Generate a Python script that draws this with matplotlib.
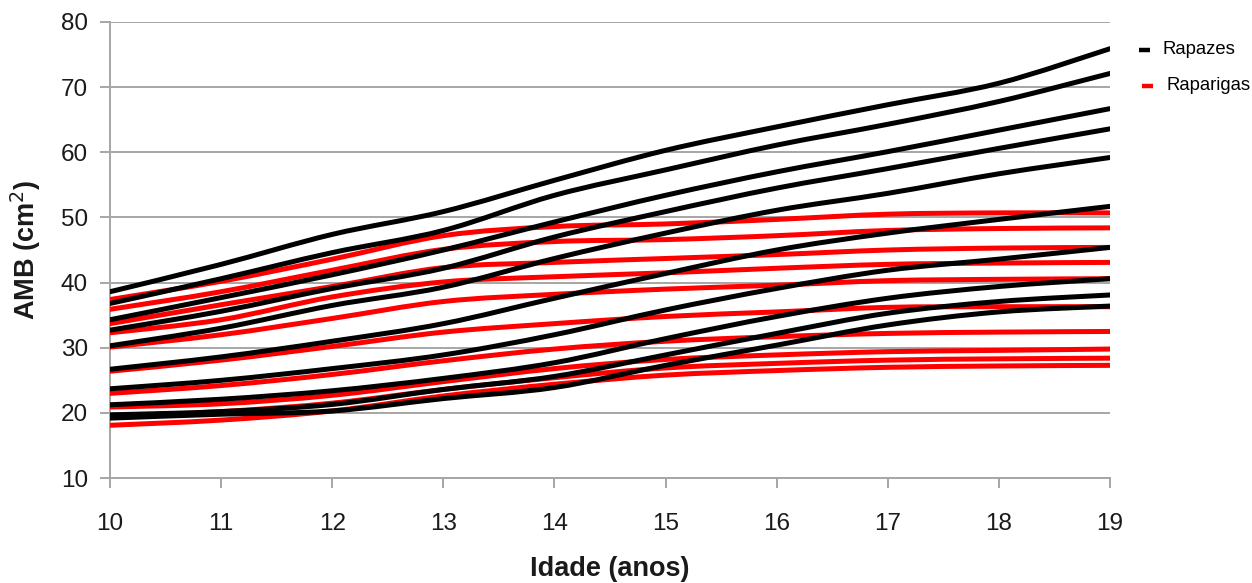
import matplotlib
matplotlib.use("Agg")
import matplotlib.pyplot as plt
from matplotlib.path import Path
from matplotlib.patches import PathPatch
from matplotlib.lines import Line2D

plt.rcParams['font.family'] = ['Liberation Sans', 'DejaVu Sans']

ages = [10, 11, 12, 13, 14, 15, 16, 17, 18, 19]

# Rapazes (boys) percentile curves, top to bottom
boys = [
    [38.6, 42.8, 47.4, 50.9, 55.7, 60.3, 63.9, 67.3, 70.6, 75.9],
    [36.8, 40.6, 44.6, 48.0, 53.4, 57.3, 61.1, 64.3, 67.8, 72.1],
    [34.3, 37.7, 41.2, 45.0, 49.3, 53.4, 57.0, 60.1, 63.4, 66.7],
    [32.7, 35.6, 39.1, 42.2, 47.0, 50.9, 54.5, 57.5, 60.6, 63.6],
    [30.3, 33.0, 36.5, 39.3, 43.7, 47.6, 51.1, 53.7, 56.7, 59.2],
    [26.7, 28.6, 31.0, 33.7, 37.6, 41.4, 45.0, 47.6, 49.7, 51.7],
    [23.7, 25.0, 26.8, 28.9, 32.0, 35.8, 39.1, 41.9, 43.6, 45.4],
    [21.25, 22.1, 23.4, 25.3, 27.7, 31.4, 34.8, 37.6, 39.4, 40.6],
    [19.7, 20.2, 21.3, 23.6, 25.6, 28.9, 32.2, 35.3, 37.1, 38.1],
    [19.2, 19.8, 20.3, 22.2, 23.9, 27.3, 30.4, 33.5, 35.5, 36.4],
]

# Raparigas (girls) percentile curves, top to bottom
girls = [
    [37.4, 40.2, 43.6, 47.2, 48.6, 49.0, 49.7, 50.5, 50.7, 50.7],
    [35.9, 38.6, 41.9, 45.1, 46.3, 46.6, 47.2, 48.0, 48.3, 48.4],
    [33.7, 36.6, 39.4, 42.3, 43.1, 43.7, 44.3, 45.0, 45.3, 45.4],
    [32.3, 34.3, 37.8, 40.1, 40.9, 41.5, 42.2, 42.8, 43.0, 43.1],
    [30.1, 32.0, 34.5, 37.1, 38.2, 39.0, 39.6, 40.3, 40.5, 40.6],
    [26.4, 28.1, 30.2, 32.4, 33.7, 34.8, 35.5, 36.2, 36.3, 36.3],
    [23.0, 24.2, 25.9, 28.0, 29.8, 31.0, 31.7, 32.2, 32.4, 32.5],
    [20.9, 21.4, 22.7, 24.8, 26.8, 28.2, 28.9, 29.4, 29.6, 29.8],
    [19.5, 20.2, 21.5, 23.6, 25.4, 26.9, 27.6, 28.1, 28.3, 28.4],
    [18.1, 18.9, 20.3, 22.6, 24.4, 25.8, 26.5, 27.0, 27.2, 27.3],
]

series_labels = ["Rapazes", "Raparigas"]
series_colors = ["#000000", "#ff0000"]

xticks = list(range(10, 20))
yticks = list(range(10, 90, 10))


def smooth_path(xs, ys):
    """Smoothed polyline as cubic Bezier segments (Catmull-Rom style)."""
    n = len(xs)
    verts = [(xs[0], ys[0])]
    codes = [Path.MOVETO]
    for i in range(n - 1):
        i0 = max(i - 1, 0)
        i3 = min(i + 2, n - 1)
        c1 = (xs[i] + (xs[i + 1] - xs[i0]) / 6.0,
              ys[i] + (ys[i + 1] - ys[i0]) / 6.0)
        c2 = (xs[i + 1] - (xs[i3] - xs[i]) / 6.0,
              ys[i + 1] - (ys[i3] - ys[i]) / 6.0)
        verts += [c1, c2, (xs[i + 1], ys[i + 1])]
        codes += [Path.CURVE4, Path.CURVE4, Path.CURVE4]
    return Path(verts, codes)


fig = plt.figure(figsize=(12.52, 5.83), dpi=100)
ax = fig.add_axes([0.0879, 0.180, 0.7987, 0.7823])

lw = 3.6
for curve in girls:
    ax.add_patch(PathPatch(smooth_path(ages, curve), fill=False,
                           edgecolor=series_colors[1], lw=lw,
                           capstyle='round', joinstyle='round', zorder=3))
for curve in boys:
    ax.add_patch(PathPatch(smooth_path(ages, curve), fill=False,
                           edgecolor=series_colors[0], lw=lw,
                           capstyle='round', joinstyle='round', zorder=4))

ax.set_xlim(10, 19)
ax.set_ylim(10, 80)
ax.set_xticks(xticks)
ax.set_yticks(yticks)
ax.set_xticklabels([str(t) for t in xticks], fontsize=17.5)
ax.set_yticklabels([str(t) for t in yticks], fontsize=17.5)

grid_c = "#a6a6a6"
ax.yaxis.grid(True, color=grid_c, lw=1.4, zorder=0)
ax.set_axisbelow(True)
for side in ("top", "right"):
    ax.spines[side].set_visible(False)
for side in ("left", "bottom"):
    ax.spines[side].set_color(grid_c)
    ax.spines[side].set_linewidth(1.4)

ax.tick_params(axis='y', direction='out', length=7, width=1.4, color=grid_c,
               pad=9, labelcolor='#1a1a1a')
ax.tick_params(axis='x', direction='out', length=7, width=1.4, color=grid_c,
               pad=18, labelcolor='#1a1a1a')

ax.set_xlabel("Idade (anos)", fontsize=19.5, fontweight='bold', labelpad=15,
              color='#1a1a1a')
ax.set_ylabel("AMB (cm$^2$)", fontsize=19.5, fontweight='bold', labelpad=13,
              color='#1a1a1a')

# legend entries at the upper right, outside the plot area
W, H = 1252.0, 583.0
legend_rows = [(1139, 1150, 50, 1163), (1142, 1153, 86, 1167)]
for (x0, x1, yy, xt), lab, col in zip(legend_rows, series_labels, series_colors):
    fig.add_artist(Line2D([x0 / W, x1 / W], [1 - yy / H, 1 - yy / H],
                          transform=fig.transFigure, color=col, lw=3.2,
                          solid_capstyle='butt'))
    fig.text(xt / W, 1 - yy / H, lab, fontsize=13.3, va='center', ha='left',
             color='black')

fig.savefig("out.png", dpi=100)
